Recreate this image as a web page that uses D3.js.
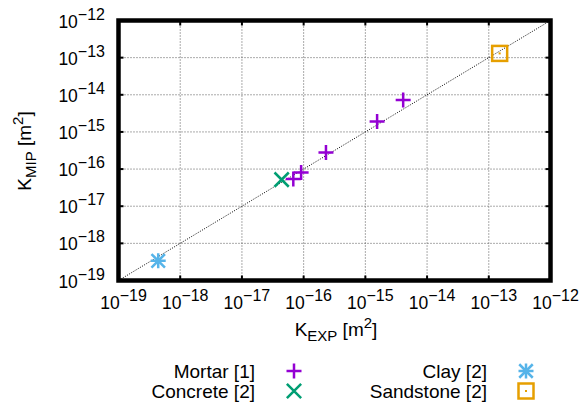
<!DOCTYPE html>
<html>
<head>
<meta charset="utf-8">
<script src="https://cdn.jsdelivr.net/npm/d3@7"></script>
<style>
  body { margin: 0; background: #fff; }
  text { font-family: "Liberation Sans", Arial, sans-serif; fill: #000; }
</style>
</head>
<body>
<div id="chart"></div>
<script>
// data (m^2)
var mortarExp  = [6.8e-17, 9.1e-17, 2.3e-16, 1.55e-15, 4.1e-15];
var mortarMip  = [5.4e-17, 8.1e-17, 2.8e-16, 1.9e-15, 7.2e-15];
var concreteExp = [4.4e-17];
var concreteMip = [5.2e-17];
var clayExp = [4.4e-19];
var clayMip = [3.4e-19];
var sandExp = [1.5e-13];
var sandMip = [1.3e-13];
var tickExps = [-19, -18, -17, -16, -15, -14, -13, -12];

var W = 587, H = 404;
var L = 118.5, R = 550.5, T = 20.5, B = 280.5;

var svg = d3.select("#chart").append("svg").attr("width", W).attr("height", H);

var x = d3.scaleLog().domain([1e-19, 1e-12]).range([L, R]);
var y = d3.scaleLog().domain([1e-19, 1e-12]).range([B, T]);
var ticks = tickExps.map(function(e) { return Math.pow(10, e); });

// grid
var grid = svg.append("g");
grid.selectAll(".gx").data(ticks.slice(1, -1)).enter().append("line")
  .attr("x1", function(d) { return x(d); }).attr("x2", function(d) { return x(d); })
  .attr("y1", T).attr("y2", B)
  .attr("stroke", "#555").attr("stroke-width", 1).attr("stroke-dasharray", "1,2");
grid.selectAll(".gy").data(ticks.slice(1, -1)).enter().append("line")
  .attr("y1", function(d) { return y(d); }).attr("y2", function(d) { return y(d); })
  .attr("x1", L).attr("x2", R)
  .attr("stroke", "#555").attr("stroke-width", 1).attr("stroke-dasharray", "1,2");

// 1:1 line
svg.append("line")
  .attr("x1", x(1e-19)).attr("y1", y(1e-19)).attr("x2", x(1e-12)).attr("y2", y(1e-12))
  .attr("stroke", "#000").attr("stroke-width", 1).attr("stroke-dasharray", "1,1.5");

// inner tick marks
var tk = svg.append("g");
ticks.forEach(function(d) {
  tk.append("line").attr("x1", x(d)).attr("x2", x(d)).attr("y1", B).attr("y2", B - 5).attr("stroke", "#000").attr("stroke-width", 2);
  tk.append("line").attr("x1", x(d)).attr("x2", x(d)).attr("y1", T).attr("y2", T + 5).attr("stroke", "#000").attr("stroke-width", 2);
  tk.append("line").attr("y1", y(d)).attr("y2", y(d)).attr("x1", L).attr("x2", L + 5).attr("stroke", "#000").attr("stroke-width", 2);
  tk.append("line").attr("y1", y(d)).attr("y2", y(d)).attr("x1", R).attr("x2", R - 5).attr("stroke", "#000").attr("stroke-width", 2);
});

// frame
svg.append("rect").attr("x", L).attr("y", T).attr("width", R - L).attr("height", B - T)
  .attr("fill", "none").attr("stroke", "#000").attr("stroke-width", 4.5);

// tick labels
function powLabel(sel, e) {
  sel.append("tspan").text("10");
  sel.append("tspan").attr("dy", -8).attr("font-size", 16).text("\u2212" + (-e));
}
tickExps.forEach(function(e) {
  var t = svg.append("text").attr("x", x(Math.pow(10, e)) + 5).attr("y", 309)
    .attr("text-anchor", "middle").attr("font-size", 17.5);
  powLabel(t, e);
  var u = svg.append("text").attr("x", 105).attr("y", y(Math.pow(10, e)) + 7)
    .attr("text-anchor", "end").attr("font-size", 17.5);
  powLabel(u, e);
});

// axis titles
function title(sel, sub) {
  sel.append("tspan").text("K");
  sel.append("tspan").attr("dy", 5).attr("font-size", 15).text(sub);
  sel.append("tspan").attr("dy", -5).text(" [m");
  sel.append("tspan").attr("dy", -8).attr("font-size", 15).text("2");
  sel.append("tspan").attr("dy", 8).text("]");
}
title(svg.append("text").attr("x", 336).attr("y", 336).attr("text-anchor", "middle").attr("font-size", 19), "EXP");
title(svg.append("text").attr("transform", "translate(31,151) rotate(-90)").attr("text-anchor", "middle").attr("font-size", 19), "MIP");

// markers
var S = 7.5;
function plus(g, cx, cy, c) {
  g.append("path").attr("d", "M" + (cx - S) + "," + cy + "H" + (cx + S) + "M" + cx + "," + (cy - S) + "V" + (cy + S))
    .attr("stroke", c).attr("stroke-width", 2.5).attr("fill", "none");
}
function cross(g, cx, cy, c) {
  var s = S * 0.95;
  g.append("path").attr("d", "M" + (cx - s) + "," + (cy - s) + "L" + (cx + s) + "," + (cy + s) + "M" + (cx - s) + "," + (cy + s) + "L" + (cx + s) + "," + (cy - s))
    .attr("stroke", c).attr("stroke-width", 2.5).attr("fill", "none");
}
function star(g, cx, cy, c) {
  plus(g, cx, cy, c);
  var s = S * 0.9;
  g.append("path").attr("d", "M" + (cx - s) + "," + (cy - s) + "L" + (cx + s) + "," + (cy + s) + "M" + (cx - s) + "," + (cy + s) + "L" + (cx + s) + "," + (cy - s))
    .attr("stroke", c).attr("stroke-width", 2.5).attr("fill", "none");
}
function box(g, cx, cy, c) {
  g.append("rect").attr("x", cx - S).attr("y", cy - S).attr("width", 2 * S).attr("height", 2 * S)
    .attr("stroke", c).attr("stroke-width", 2.5).attr("fill", "none");
  g.append("rect").attr("x", cx - 1).attr("y", cy - 1).attr("width", 2).attr("height", 2).attr("fill", c);
}

var series = [
  {name: "Mortar [1]", xs: mortarExp, ys: mortarMip, color: "#9400d3", mark: plus, lx: 255, ly: 371},
  {name: "Concrete [2]", xs: concreteExp, ys: concreteMip, color: "#009e73", mark: cross, lx: 255, ly: 391},
  {name: "Clay [2]", xs: clayExp, ys: clayMip, color: "#56b4e9", mark: star, lx: 487, ly: 371},
  {name: "Sandstone [2]", xs: sandExp, ys: sandMip, color: "#e69f00", mark: box, lx: 487, ly: 391}
];

var pts = svg.append("g");
series.forEach(function(s) {
  s.xs.forEach(function(v, i) { s.mark(pts, x(v), y(s.ys[i]), s.color); });
  svg.append("text").attr("x", s.lx).attr("y", s.ly + 7).attr("text-anchor", "end").attr("font-size", 19).text(s.name);
  s.mark(svg, s.lx + 39, s.ly, s.color);
});
</script>
</body>
</html>
